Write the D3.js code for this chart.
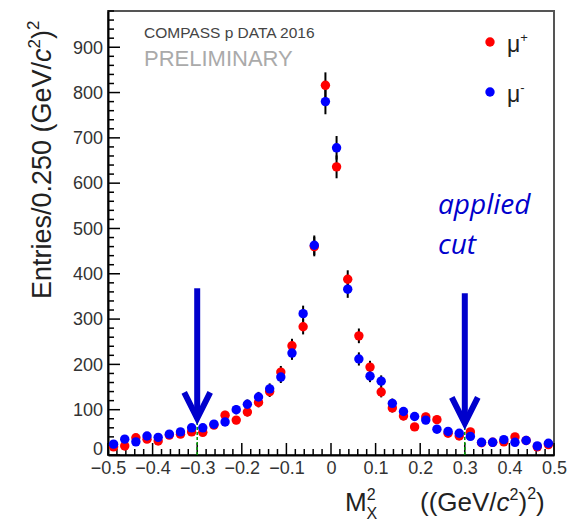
<!DOCTYPE html>
<html>
<head>
<meta charset="utf-8">
<script src="https://cdn.jsdelivr.net/npm/d3@7"></script>
<style>
  body { margin: 0; background: #fff; }
  svg { display: block; }
</style>
</head>
<body>
<svg id="drawing_region"></svg>
<script>
// bin centres (width 0.025)
const binCenters = [-0.4875, -0.4625, -0.4375, -0.4125, -0.3875, -0.3625, -0.3375, -0.3125, -0.2875, -0.2625,
                    -0.2375, -0.2125, -0.1875, -0.1625, -0.1375, -0.1125, -0.0875, -0.0625, -0.0375, -0.0125,
                     0.0125,  0.0375,  0.0625,  0.0875,  0.1125,  0.1375,  0.1625,  0.1875,  0.2125,  0.2375,
                     0.2625,  0.2875,  0.3125,  0.3375,  0.3625,  0.3875,  0.4125,  0.4375,  0.4625,  0.4875];
// mu+ entries
const muPlus = [18, 20, 38, 35, 31, 44, 46, 51, 50, 66,
                88, 77, 95, 116, 140, 183, 241, 283, 460, 816,
                636, 388, 263, 194, 139, 104, 86, 62, 84, 78,
                48, 42, 51, 27, 28, 29, 40, 32, 18, 23];
// mu- entries
const muMinus = [24, 35, 29, 42, 39, 46, 51, 60, 60, 68,
                 73, 100, 112, 128, 146, 172, 225, 312, 463, 780,
                 678, 366, 212, 174, 163, 114, 96, 85, 77, 57,
                 52, 48, 41, 28, 28, 34, 28, 32, 20, 26];
const yTicks = [0, 100, 200, 300, 400, 500, 600, 700, 800, 900];
const xTicks = [-0.5, -0.4, -0.3, -0.2, -0.1, 0, 0.1, 0.2, 0.3, 0.4, 0.5];
const xTickLabels = ['\u22120.5', '\u22120.4', '\u22120.3', '\u22120.2', '\u22120.1', '0', '0.1', '0.2', '0.3', '0.4', '0.5'];
const cutValues = [-0.3, 0.3];
const seriesNames = ['\u03bc+', '\u03bc-'];
const seriesColors = ['#ff0000', '#0000ff'];

class MissMassPlot {
    constructor (config, plus, minus) {
        this.config = {
            parent: config.parent,
            width: config.width || 256,
            height: config.height || 256,
            margin: config.margin || {top:10, right:10, bottom:10, left:10}
        };
        this.plus = plus;
        this.minus = minus;
        this.init();
    }

    init() {
        let self = this;

        self.svg = d3.select(self.config.parent)
            .attr('width', self.config.width)
            .attr('height', self.config.height);

        self.inner_width = self.config.width - self.config.margin.left - self.config.margin.right;
        self.inner_height = self.config.height - self.config.margin.top - self.config.margin.bottom;

        self.chart = self.svg.append('g')
            .attr('transform', `translate(${self.config.margin.left}, ${self.config.margin.top})`);

        self.xscale = d3.scaleLinear()
            .domain([-0.5, 0.5])
            .range([0, self.inner_width]);

        self.yscale = d3.scaleLinear()
            .domain([0, 980])
            .range([self.inner_height, 0]);
    }

    render() {
        let self = this;
        const font = 'Liberation Sans, Arial, sans-serif';

        // frame
        self.chart.append('rect')
            .attr('width', self.inner_width)
            .attr('height', self.inner_height)
            .attr('fill', 'none')
            .attr('stroke', '#555')
            .attr('stroke-width', 2);

        // minor ticks (inner)
        const yMinor = d3.range(0, 981, 20);
        self.chart.append('g').selectAll('line')
            .data(yMinor)
            .join('line')
            .attr('x1', 0)
            .attr('x2', d => d % 100 == 0 ? 12 : 6)
            .attr('y1', d => self.yscale(d))
            .attr('y2', d => self.yscale(d))
            .attr('stroke', '#000')
            .attr('stroke-width', 1.5);

        const xMinor = d3.range(-25, 26).map(i => i * 0.02);
        self.chart.append('g').selectAll('line')
            .data(xMinor)
            .join('line')
            .attr('x1', d => self.xscale(d))
            .attr('x2', d => self.xscale(d))
            .attr('y1', self.inner_height)
            .attr('y2', (d, i) => self.inner_height - ((i % 5 == 0) ? 12 : 6))
            .attr('stroke', '#000')
            .attr('stroke-width', 1.5);

        // axes (labels only, ticks drawn above)
        const yaxis = d3.axisLeft(self.yscale)
            .tickValues(yTicks)
            .tickSize(0)
            .tickPadding(5);
        const yaxis_group = self.chart.append('g').call(yaxis);
        yaxis_group.select('.domain').attr('stroke', '#000').attr('stroke-width', 2);
        yaxis_group.selectAll('text')
            .style('font-family', font)
            .style('font-size', '18px')
            .attr('fill', '#333');
        // the "0" sits a bit higher so it clears -0.5
        yaxis_group.selectAll('.tick').filter(d => d == 0).select('text').attr('dy', '-0.05em');

        const xaxis = d3.axisBottom(self.xscale)
            .tickValues(xTicks)
            .tickFormat((d, i) => xTickLabels[i])
            .tickSize(0)
            .tickPadding(6);
        const xaxis_group = self.chart.append('g')
            .attr('transform', `translate(0, ${self.inner_height})`)
            .call(xaxis);
        xaxis_group.select('.domain').attr('stroke', '#000').attr('stroke-width', 2);
        xaxis_group.selectAll('text')
            .style('font-family', font)
            .style('font-size', '18px')
            .attr('fill', '#333');

        // green cut lines
        self.chart.append('g').selectAll('line')
            .data(cutValues)
            .join('line')
            .attr('x1', d => self.xscale(d))
            .attr('x2', d => self.xscale(d))
            .attr('y1', self.inner_height)
            .attr('y2', self.yscale(78))
            .attr('stroke', '#009900')
            .attr('stroke-width', 1.5)
            .attr('stroke-dasharray', '3,2');

        // error bars sqrt(N)
        const all = [];
        self.plus.forEach((v, i) => all.push({x: binCenters[i], v: v}));
        self.minus.forEach((v, i) => all.push({x: binCenters[i], v: v}));
        self.chart.append('g').selectAll('line')
            .data(all)
            .join('line')
            .attr('x1', d => self.xscale(d.x))
            .attr('x2', d => self.xscale(d.x))
            .attr('y1', d => self.yscale(d.v + Math.sqrt(d.v)))
            .attr('y2', d => self.yscale(Math.max(0, d.v - Math.sqrt(d.v))))
            .attr('stroke', '#000')
            .attr('stroke-width', 2);

        // markers
        [self.plus, self.minus].forEach((arr, k) => {
            self.chart.append('g').selectAll('circle')
                .data(arr)
                .join('circle')
                .attr('cx', (d, i) => self.xscale(binCenters[i]))
                .attr('cy', d => self.yscale(d))
                .attr('r', 4.7)
                .attr('fill', seriesColors[k]);
        });

        // title
        self.chart.append('text')
            .attr('x', 36).attr('y', 27)
            .style('font-family', font).style('font-size', '15.5px')
            .attr('fill', '#444')
            .text('COMPASS p DATA 2016');
        self.chart.append('text')
            .attr('x', 36).attr('y', 55)
            .style('font-family', font).style('font-size', '22px')
            .attr('fill', '#aaa')
            .text('PRELIMINARY');

        // legend
        const legend = self.chart.append('g')
            .attr('transform', `translate(${self.inner_width - 64}, 31)`);
        seriesNames.forEach((name, k) => {
            const row = legend.append('g').attr('transform', `translate(0, ${k * 50})`);
            row.append('circle').attr('r', 4.7).attr('fill', seriesColors[k]);
            const t = row.append('text')
                .attr('x', 17).attr('y', 10)
                .style('font-family', font).style('font-size', '23px')
                .attr('fill', '#222');
            t.append('tspan').text(name.slice(0, 1));
            t.append('tspan').attr('dy', -10).style('font-size', '13px').text(name.slice(1));
        });

        // arrows for applied cut
        const arrows = self.chart.append('g');
        cutValues.forEach((c, k) => {
            const ax = self.xscale(c);
            const top = self.yscale(k == 0 ? 368 : 357);
            const tip = self.yscale(k == 0 ? 81 : 70);
            arrows.append('line')
                .attr('x1', ax).attr('x2', ax)
                .attr('y1', top).attr('y2', tip - 3)
                .attr('stroke', '#0000cc').attr('stroke-width', 6);
            arrows.append('path')
                .attr('d', `M${ax - 13},${tip - 26} L${ax},${tip} L${ax + 13},${tip - 26}`)
                .attr('fill', 'none')
                .attr('stroke', '#0000cc').attr('stroke-width', 6)
                .attr('stroke-linejoin', 'miter');
        });

        self.chart.append('text')
            .attr('x', 330).attr('y', 203)
            .style('font-family', 'Open Sans, sans-serif').style('font-size', '28px')
            .style('font-style', 'italic')
            .attr('fill', '#0000cc')
            .text('applied');
        self.chart.append('text')
            .attr('x', 330).attr('y', 243)
            .style('font-family', 'Open Sans, sans-serif').style('font-size', '28px')
            .style('font-style', 'italic')
            .attr('fill', '#0000cc')
            .text('cut');

        // y label
        const ylab = self.svg.append('text')
            .attr('transform', `translate(51, 299) rotate(-90)`)
            .style('font-family', font).style('font-size', '27px')
            .attr('fill', '#222');
        ylab.append('tspan').text('Entries/0.250 (GeV/');
        ylab.append('tspan').style('font-style', 'italic').text('c');
        ylab.append('tspan').attr('dy', -11).style('font-size', '17px').text('2');
        ylab.append('tspan').attr('dy', 11).text(')');
        ylab.append('tspan').attr('dy', -12).style('font-size', '17px').text('2');

        // x label
        const xlab = self.svg.append('text')
            .attr('x', 345).attr('y', 511)
            .style('font-family', font).style('font-size', '26px')
            .attr('fill', '#222');
        xlab.append('tspan').text('M');
        xlab.append('tspan').attr('dy', -11).style('font-size', '16px').text('2');
        xlab.append('tspan').attr('dx', -9).attr('dy', 19).style('font-size', '16px').text('X');
        xlab.append('tspan').attr('dy', -8).attr('x', 420).text('((GeV/');
        xlab.append('tspan').style('font-style', 'italic').text('c');
        xlab.append('tspan').attr('dy', -11).style('font-size', '16px').text('2');
        xlab.append('tspan').attr('dy', 11).text(')');
        xlab.append('tspan').attr('dy', -12).style('font-size', '16px').text('2');
        xlab.append('tspan').attr('dy', 12).text(')');
    }
}

const plot = new MissMassPlot({
    parent: '#drawing_region',
    width: 582,
    height: 523,
    margin: {top: 11, right: 28, bottom: 68, left: 108}
}, muPlus, muMinus);
plot.render();
</script>
</body>
</html>
